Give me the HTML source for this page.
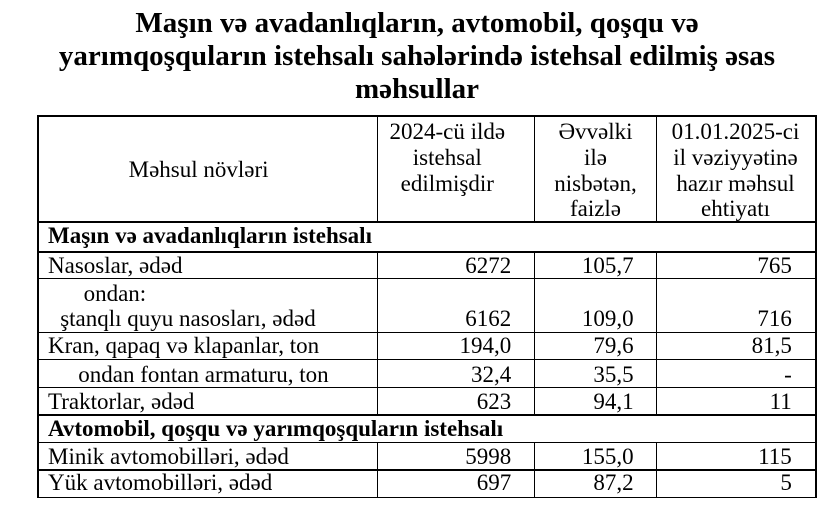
<!DOCTYPE html>
<html>
<head>
<meta charset="utf-8">
<style>
  html, body { margin:0; padding:0; background:#fff; }
  body { width:834px; height:526px; position:relative; overflow:hidden;
         font-family:"Liberation Serif", "DejaVu Serif", serif; color:#000; }
  .t { position:absolute; white-space:nowrap; font-size:23px; line-height:26px; }
  .b { font-weight:bold; }
  .h { position:absolute; background:#000; left:37px; width:780px; }
  .v { position:absolute; background:#000; width:1px; }
  .title { position:absolute; left:0; width:834px; top:7.2px; text-align:center;
           font-weight:bold; font-size:29px; line-height:33px; white-space:nowrap; }
  .hc { position:absolute; width:240px; text-align:center; font-size:23px; line-height:25.8px; top:119px; white-space:nowrap; }
  .n { position:absolute; text-align:right; white-space:nowrap; font-size:23px; line-height:26px; }
</style>
</head>
<body>

<div class="title">Maşın və avadanlıqların, avtomobil, qoşqu və<br>yarımqoşquların istehsalı sahələrində istehsal edilmiş əsas<br>məhsullar</div>

<!-- horizontal lines -->
<div class="h" style="top:115px;height:2px;"></div>
<div class="h" style="top:221px;height:2px;"></div>
<div class="h" style="top:251px;height:2px;"></div>
<div class="h" style="top:278px;height:1px;"></div>
<div class="h" style="top:332px;height:1px;"></div>
<div class="h" style="top:359px;height:1px;"></div>
<div class="h" style="top:387px;height:1px;"></div>
<div class="h" style="top:414px;height:2px;"></div>
<div class="h" style="top:442px;height:1px;"></div>
<div class="h" style="top:469px;height:2px;"></div>
<div class="h" style="top:497px;height:1px;"></div>

<!-- outer verticals -->
<div class="v" style="left:37px;top:115px;height:383px;width:2px;"></div>
<div class="v" style="left:815px;top:115px;height:383px;width:2px;"></div>

<!-- inner verticals: header -->
<div class="v" style="left:377px;top:116px;height:106px;"></div>
<div class="v" style="left:534px;top:116px;height:106px;"></div>
<div class="v" style="left:656px;top:116px;height:106px;"></div>
<!-- inner verticals: rows block 1 -->
<div class="v" style="left:377px;top:252px;height:163px;"></div>
<div class="v" style="left:534px;top:252px;height:163px;"></div>
<div class="v" style="left:656px;top:252px;height:163px;"></div>
<!-- inner verticals: rows block 2 -->
<div class="v" style="left:377px;top:442px;height:56px;"></div>
<div class="v" style="left:534px;top:442px;height:56px;"></div>
<div class="v" style="left:656px;top:442px;height:56px;"></div>

<!-- header texts -->
<div class="hc" style="left:78.6px;top:157px;">Məhsul növləri</div>
<div class="hc" style="left:327.3px;">2024-cü ildə<br>istehsal<br>edilmişdir</div>
<div class="hc" style="left:475.5px;">Əvvəlki<br>ilə<br>nisbətən,<br>faizlə</div>
<div class="hc" style="left:615.5px;">01.01.2025-ci<br>il vəziyyətinə<br>hazır məhsul<br>ehtiyatı</div>

<!-- section 1 -->
<div class="t b" style="left:48px;top:223.2px;">Maşın və avadanlıqların istehsalı</div>

<!-- rows -->
<div class="t" style="left:48px;top:252.5px;">Nasoslar, ədəd</div>
<div class="n" style="right:322.8px;top:252.5px;">6272</div>
<div class="n" style="right:200.4px;top:252.5px;">105,7</div>
<div class="n" style="right:42.2px;top:252.5px;">765</div>

<div class="t" style="left:83.6px;top:280.9px;">ondan:</div>
<div class="t" style="left:60.2px;top:305.9px;">ştanqlı quyu nasosları, ədəd</div>
<div class="n" style="right:322.8px;top:305.9px;">6162</div>
<div class="n" style="right:200.4px;top:305.9px;">109,0</div>
<div class="n" style="right:42.2px;top:305.9px;">716</div>

<div class="t" style="left:48px;top:333.2px;">Kran, qapaq və klapanlar, ton</div>
<div class="n" style="right:322.8px;top:333.2px;">194,0</div>
<div class="n" style="right:200.4px;top:333.2px;">79,6</div>
<div class="n" style="right:42.2px;top:333.2px;">81,5</div>

<div class="t" style="left:78.3px;top:361.5px;">ondan fontan armaturu, ton</div>
<div class="n" style="right:322.8px;top:361.5px;">32,4</div>
<div class="n" style="right:200.4px;top:361.5px;">35,5</div>
<div class="n" style="right:42.2px;top:361.5px;">-</div>

<div class="t" style="left:48px;top:388.5px;">Traktorlar, ədəd</div>
<div class="n" style="right:322.8px;top:388.5px;">623</div>
<div class="n" style="right:200.4px;top:388.5px;">94,1</div>
<div class="n" style="right:42.2px;top:388.5px;">11</div>

<!-- section 2 -->
<div class="t b" style="left:48px;top:415.9px;">Avtomobil, qoşqu və yarımqoşquların istehsalı</div>

<div class="t" style="left:48px;top:443.5px;">Minik avtomobilləri, ədəd</div>
<div class="n" style="right:322.8px;top:443.5px;">5998</div>
<div class="n" style="right:200.4px;top:443.5px;">155,0</div>
<div class="n" style="right:42.2px;top:443.5px;">115</div>

<div class="t" style="left:48px;top:470.2px;">Yük avtomobilləri, ədəd</div>
<div class="n" style="right:322.8px;top:470.2px;">697</div>
<div class="n" style="right:200.4px;top:470.2px;">87,2</div>
<div class="n" style="right:42.2px;top:470.2px;">5</div>

</body>
</html>
